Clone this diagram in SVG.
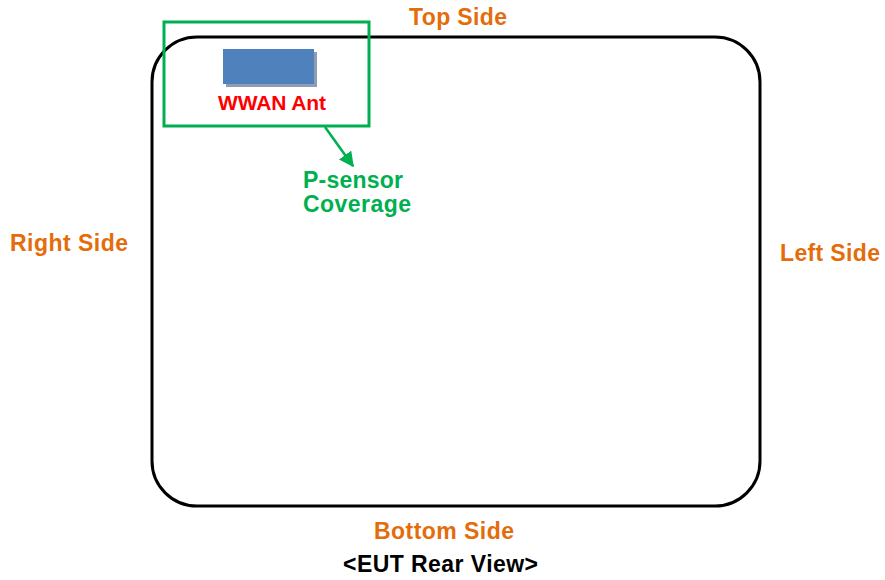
<svg xmlns="http://www.w3.org/2000/svg" width="885" height="580" viewBox="0 0 885 580">
<style>
text{font-family:"Liberation Sans",Arial,sans-serif;font-weight:bold}
.side{fill:#E46C0A;font-size:23px}
.green{fill:#00B050;font-size:23px}
</style>
<defs>
<marker id="ah" viewBox="0 0 10 10" refX="9" refY="5" markerWidth="6" markerHeight="6" orient="auto" markerUnits="strokeWidth">
<path d="M0,0 L10,5 L0,10 z" fill="#00B050"/>
</marker>
</defs>
<rect width="885" height="580" fill="#fff"/>
<g id="eut">
<rect x="152" y="37" width="608" height="469" rx="45" ry="45" fill="none" stroke="#000" stroke-width="3"/>
</g>
<g id="antenna">
<rect x="226" y="52" width="91" height="35" fill="#8E9DB3"/>
<rect x="223" y="49" width="91" height="35" fill="#4F81BD"/>
<text x="272" y="110" text-anchor="middle" fill="#FF0000" font-size="21" textLength="108">WWAN Ant</text>
</g>
<g id="psensor">
<rect x="164" y="22" width="205" height="104" fill="none" stroke="#00B050" stroke-width="3"/>
</g>
<g id="connectors">
<line x1="325" y1="127" x2="353" y2="166" stroke="#00B050" stroke-width="2.5" marker-end="url(#ah)"/>
</g>
<g id="labels">
<text class="green" x="303" y="188" textLength="100">P-sensor</text>
<text class="green" x="303" y="212" textLength="108">Coverage</text>
<text class="side" x="409" y="25" textLength="98">Top Side</text>
<text class="side" x="10" y="251" textLength="118">Right Side</text>
<text class="side" x="780" y="261" textLength="100">Left Side</text>
<text class="side" x="374" y="539" textLength="140">Bottom Side</text>
<text x="343" y="572" font-size="23" fill="#000" textLength="195">&lt;EUT Rear View&gt;</text>
</g>
</svg>
